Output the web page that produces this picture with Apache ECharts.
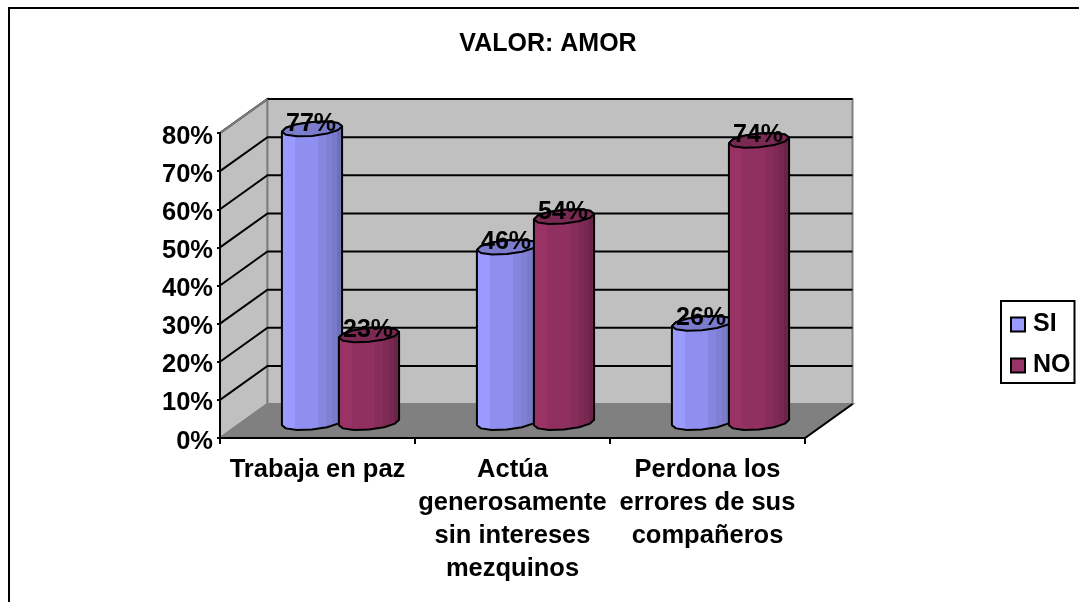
<!DOCTYPE html>
<html><head><meta charset="utf-8">
<style>html,body{margin:0;padding:0;background:#fff}#c{width:1079px;height:602px}</style>
<script src="https://cdn.jsdelivr.net/npm/echarts@6/dist/echarts.min.js"></script>
</head><body><div id="c"></div>
<script>
const categories = ['Trabaja en paz','Actúa\ngenerosamente\nsin intereses\nmezquinos','Perdona los\nerrores de sus\ncompañeros'];
const si = [77,46,26];
const no = [23,54,74];
const yTicks = [0,10,20,30,40,50,60,70,80];
const FONT = '"Liberation Sans", Arial, sans-serif';
const depth = [47.5,-34];
const mid = [23.5,-15.5];
const facetStops = [0,.22,.22,.6,.6,.72,.72,.82,.82,.91,.91,1];
const siFacets = ['#9a9aff','#9a9aff','#8f8ff0','#8f8ff0','#8686e0','#8686e0','#7f7fd4','#7f7fd4','#7a7acb','#7a7acb','#6f6fb8','#6f6fb8'];
const noFacets = ['#993366','#993366','#8f3060','#8f3060','#862d5a','#862d5a','#7e2a55','#7e2a55','#772850','#772850','#6b2448','#6b2448'];

function ell(c,t,ux,vx,vy){return [c[0]+ux*Math.cos(t)+vx*Math.sin(t), c[1]+vy*Math.sin(t)];}
function cyl(side, facets, top){
  return function(params, api){
    const cat = api.value(0), val = api.value(1);
    const base = api.coord([cat,0]), head = api.coord([cat,val]);
    const cx = base[0] + mid[0] + side*28.5 - 0.5;
    const b = [cx, base[1]+mid[1]], t = [cx, head[1]+mid[1]];
    const ux=28, vx=11, vy=-7.5;
    const t0 = Math.atan2(vx,ux);
    const body=[];
    const N=6;
    for(let i=0;i<=N;i++){body.push(ell(t,t0+Math.PI*i/N,ux,vx,vy));}
    for(let i=0;i<=N;i++){body.push(ell(b,t0+Math.PI+Math.PI*i/N,ux,vx,vy));}
    const cap=[];
    for(let i=0;i<2*N;i++){cap.push(ell(t,t0+Math.PI*i/N,ux,vx,vy));}
    const stops = facetStops.map((o,i)=>({offset:o,color:facets[i]}));
    return {type:'group',children:[
      {type:'polygon',shape:{points:body},style:{fill:{type:'linear',x:0,y:0,x2:1,y2:0,colorStops:stops},stroke:'#000',lineWidth:2,lineJoin:'round'}},
      {type:'polygon',shape:{points:cap},style:{fill:top,stroke:'#000',lineWidth:2,lineJoin:'round'}},
      {type:'text',z2:100,style:{x:t[0]-1,y:t[1]-5,text:val+'%',fill:'#000',font:'bold 25px '+FONT,textAlign:'center',textVerticalAlign:'middle'}}
    ]};
  };
}
function walls(params, api){
  const g = params.coordSys;
  const L=g.x,R=g.x+g.width,T=g.y,B=g.y+g.height,d=depth;
  const kids=[
    {type:'polygon',shape:{points:[[L,B],[L,T],[L+d[0],T+d[1]],[L+d[0],B+d[1]]]},style:{fill:'#c0c0c0',stroke:'#808080',lineWidth:2}},
    {type:'polygon',shape:{points:[[L+d[0],T+d[1]],[R+d[0],T+d[1]],[R+d[0],B+d[1]],[L+d[0],B+d[1]]]},style:{fill:'#c0c0c0',stroke:'#808080',lineWidth:2}},
    {type:'polygon',shape:{points:[[L,B],[R,B],[R+d[0],B+d[1]],[L+d[0],B+d[1]]]},style:{fill:'#808080',stroke:'#808080',lineWidth:2}},
    {type:'line',shape:{x1:R,y1:B,x2:R+d[0],y2:B+d[1]},style:{stroke:'#000',lineWidth:2}}
  ];
  yTicks.forEach(v=>{
    if(v===0) return;
    const y=api.coord([0,v])[1];
    kids.push({type:'polyline',shape:{points:[[L,y],[L+d[0],y+d[1]],[R+d[0],y+d[1]]]},style:{fill:null,stroke:'#000',lineWidth:2}});
  });
  const y80=api.coord([0,80])[1];
  kids.push({type:'line',shape:{x1:L,y1:y80,x2:L+d[0],y2:y80+d[1]},style:{stroke:'#808080',lineWidth:2}});
  return {type:'group',children:kids};
}
const chart = echarts.init(document.getElementById('c'),null,{renderer:'canvas'});
chart.setOption({
  animation:false,
  backgroundColor:'#fff',
  title:{text:'VALOR: AMOR',left:543,top:27,textAlign:'center',textStyle:{fontFamily:FONT,fontWeight:'bold',fontSize:25,color:'#000'}},
  legend:{orient:'vertical',left:1001,top:301,padding:[11,4,5,9],itemGap:16,itemWidth:14,itemHeight:14,
    backgroundColor:'#fff',borderColor:'#000',borderWidth:2,icon:'rect',
    data:['SI','NO'],textStyle:{fontFamily:FONT,fontWeight:'bold',fontSize:25,color:'#000',padding:[0,0,0,3]}},
  grid:{left:220,top:133,width:585,height:305,containLabel:false},
  xAxis:{type:'category',data:categories,z:5,
    axisLine:{lineStyle:{color:'#000',width:2}},
    axisTick:{show:true,length:6,alignWithLabel:false,lineStyle:{color:'#000',width:2}},
    axisLabel:{interval:0,margin:15,color:'#000',fontFamily:FONT,fontWeight:'bold',fontSize:25.5,lineHeight:33,align:'center'}},
  yAxis:{type:'value',min:0,max:80,interval:10,z:5,splitLine:{show:false},
    axisLine:{show:true,lineStyle:{color:'#000',width:2}},
    axisTick:{show:true,length:3,lineStyle:{color:'#000',width:2}},
    axisLabel:{margin:7,formatter:'{t|{value}%}',rich:{t:{color:'#000',fontFamily:FONT,fontWeight:'bold',fontSize:25.5,padding:[7,0,0,0]}}}},
  graphic:[
    {type:'line',z:-1,shape:{x1:8,y1:8,x2:1079,y2:8},style:{stroke:'#000',lineWidth:2}},
    {type:'line',z:-1,shape:{x1:9,y1:8,x2:9,y2:602},style:{stroke:'#000',lineWidth:2}}
  ],
  series:[
    {type:'custom',name:'walls',z:1,silent:true,renderItem:walls,data:[[0,0]],encode:{x:0,y:1}},
    {type:'custom',name:'SI',z:3,renderItem:cyl(-1,siFacets,'#7c7ccc'),itemStyle:{color:'#9999ff',borderColor:'#000',borderWidth:2},
      data:si.map((v,i)=>[i,v]),encode:{x:0,y:1}},
    {type:'custom',name:'NO',z:4,renderItem:cyl(1,noFacets,'#7a2952'),itemStyle:{color:'#993366',borderColor:'#000',borderWidth:2},
      data:no.map((v,i)=>[i,v]),encode:{x:0,y:1}}
  ]
});
</script></body></html>
